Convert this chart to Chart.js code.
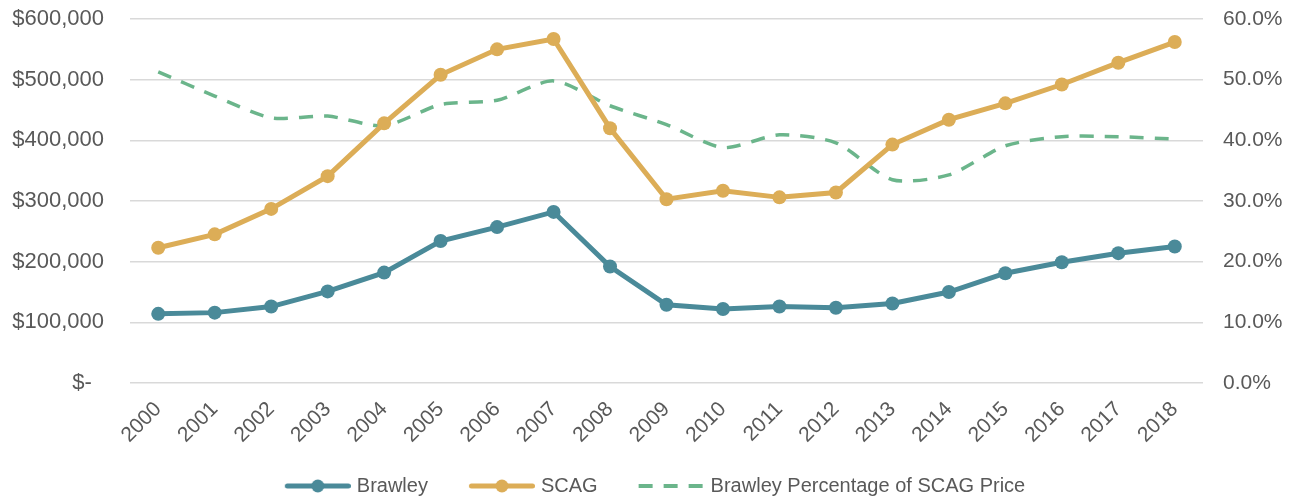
<!DOCTYPE html>
<html>
<head>
<meta charset="utf-8">
<script src="https://cdn.jsdelivr.net/npm/chart.js@4"></script>
<style>
  html, body { margin: 0; padding: 0; background: #fff; }
  #wrap { width: 1296px; height: 497px; position: relative; }
</style>
</head>
<body>
<div id="wrap"><canvas id="chart"></canvas></div>
<script>
// ---- data ----
const years = ['2000','2001','2002','2003','2004','2005','2006','2007','2008','2009',
               '2010','2011','2012','2013','2014','2015','2016','2017','2018'];
const brawley = [114000,116000,126000,151000,182000,234000,257000,282000,192000,129000,
                 122000,126000,124000,131000,150000,181000,199000,214000,225000];
const scag = [223000,245000,287000,341000,428000,508000,550000,567000,420000,303000,
              317000,306000,314000,393000,434000,461000,492000,528000,562000];
const pctOfScag = [0.513,0.473,0.437,0.440,0.424,0.459,0.466,0.498,0.457,0.426,
                   0.388,0.409,0.396,0.335,0.343,0.391,0.406,0.406,0.402];
const leftTicks = [0,100000,200000,300000,400000,500000,600000];
const rightTicks = [0,0.1,0.2,0.3,0.4,0.5,0.6];

const TEAL = '#4a8a99';
const GOLD = '#dcad57';
const GREEN = '#6bb58b';
const TEXT = '#595959';
const FONT = 'Liberation Sans';

// legend icon: line with a dot, or dashed line
// (blank strip on the left gives the extra gap between legend items)
function legendIcon(color, dashed) {
  const c = document.createElement('canvas');
  c.width = 84; c.height = 16;
  const g = c.getContext('2d');
  g.strokeStyle = color;
  if (dashed) {
    g.lineWidth = 4;
    g.setLineDash([14, 11]);
    g.beginPath(); g.moveTo(18, 8); g.lineTo(82, 8); g.stroke();
  } else {
    g.lineWidth = 5;
    g.lineCap = 'round';
    g.beginPath(); g.moveTo(20.5, 8); g.lineTo(81.5, 8); g.stroke();
    g.fillStyle = color;
    g.beginPath(); g.arc(51, 8, 6.5, 0, Math.PI * 2); g.fill();
  }
  return c;
}
const icons = [legendIcon(TEAL, false), legendIcon(GOLD, false), legendIcon(GREEN, true)];

// vertical axes: no extra room above/below, the layout padding handles it
const noVPad = axis => { axis.paddingTop = 0; axis.paddingBottom = 0; };

const ctx = document.getElementById('chart').getContext('2d');
new Chart(ctx, {
  type: 'line',
  data: {
    labels: years,
    datasets: [
      {
        label: 'Brawley', data: brawley, yAxisID: 'y',
        borderColor: TEAL, backgroundColor: TEAL, borderWidth: 5,
        pointRadius: 7, pointHoverRadius: 7, pointBorderWidth: 0, tension: 0
      },
      {
        label: 'SCAG', data: scag, yAxisID: 'y',
        borderColor: GOLD, backgroundColor: GOLD, borderWidth: 5,
        pointRadius: 7, pointHoverRadius: 7, pointBorderWidth: 0, tension: 0
      },
      {
        label: 'Brawley Percentage of SCAG Price', data: pctOfScag, yAxisID: 'y1',
        borderColor: GREEN, backgroundColor: GREEN, borderWidth: 3.5,
        borderDash: [14, 11], pointRadius: 0, tension: 0.25
      }
    ]
  },
  options: {
    responsive: true,
    maintainAspectRatio: false,
    animation: false,
    layout: { padding: { top: 19, left: 0, right: 0, bottom: -9 } },
    plugins: {
      tooltip: { enabled: false },
      legend: {
        position: 'bottom',
        labels: {
          usePointStyle: true,
          pointStyleWidth: 76,
          padding: 27,
          color: TEXT,
          font: { family: FONT, size: 20 },
          generateLabels: chart => chart.data.datasets.map((ds, i) => ({
            text: ds.label,
            pointStyle: icons[i],
            fillStyle: ds.borderColor,
            strokeStyle: ds.borderColor,
            lineWidth: 0,
            fontColor: TEXT,
            datasetIndex: i,
            hidden: false
          }))
        }
      }
    },
    scales: {
      x: {
        offset: true,
        afterFit: axis => { axis.height = 66; },
        grid: { display: false, drawTicks: false },
        border: { display: false },
        ticks: {
          color: TEXT, font: { family: FONT, size: 21 },
          minRotation: 45, maxRotation: 45, padding: 14
        }
      },
      y: {
        position: 'left',
        min: 0, max: 600000,
        afterFit: axis => { axis.width = 130; noVPad(axis); },
        afterBuildTicks: axis => { axis.ticks = leftTicks.map(v => ({ value: v })); },
        grid: { color: '#d9d9d9', lineWidth: 1.6, drawTicks: false },
        border: { display: false },
        ticks: {
          color: TEXT, font: { family: FONT, size: 22 }, padding: 26,
          callback: v => v === 0 ? '$-  ' : '$' + v.toLocaleString('en-US')
        }
      },
      y1: {
        position: 'right',
        min: 0, max: 0.6,
        afterFit: axis => { axis.width = 93; noVPad(axis); },
        afterBuildTicks: axis => { axis.ticks = rightTicks.map(v => ({ value: v })); },
        grid: { drawOnChartArea: false, drawTicks: false },
        border: { display: false },
        ticks: {
          color: TEXT, font: { family: FONT, size: 21 }, padding: 20,
          callback: v => (v * 100).toFixed(1) + '%'
        }
      }
    }
  }
});
</script>
</body>
</html>
